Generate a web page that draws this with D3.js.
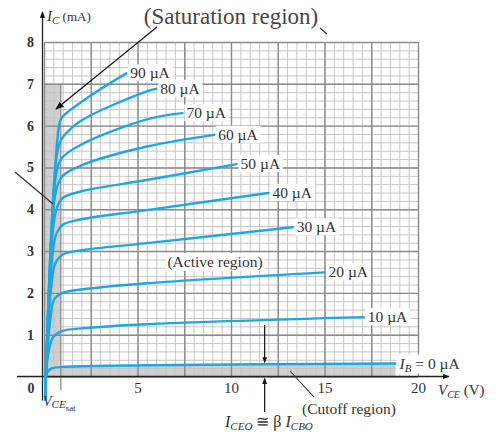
<!DOCTYPE html>
<html><head><meta charset="utf-8">
<script src="https://cdn.jsdelivr.net/npm/d3@7"></script>
<style>
body{margin:0;background:#fff}
svg{display:block}
text{font-family:"Liberation Serif","Times New Roman",serif;fill:#333}
</style>
</head><body>
<svg id="c" width="496" height="434"></svg>
<script>
// ---- data ----
const baseCurrents = [0, 10, 20, 30, 40, 50, 60, 70, 80, 90]; // µA
const curveIB0  = [[0.08,-0.55],[0.1,0],[0.2,0.12],[0.45,0.2],[1,0.23],[5.5,0.27],[18.8,0.31]];
const curveIB10 = [[0.08,-0.55],[0.1,0],[0.25,0.6],[0.5,0.95],[1,1.09],[2,1.15],[5.5,1.25],[17.1,1.42]];
const curveIB20 = [[0.08,-0.55],[0.1,0],[0.35,1.4],[0.55,1.85],[1,2.0],[2,2.08],[5.5,2.23],[15,2.49]];
const curveIB30 = [[0.08,-0.55],[0.1,0],[0.4,2.2],[0.6,2.7],[1,2.92],[2,3.02],[5.5,3.19],[13.3,3.57]];
const curveIB40 = [[0.08,-0.55],[0.1,0],[0.45,2.9],[0.65,3.4],[1,3.63],[2,3.76],[5.5,3.98],[12,4.39]];
const curveIB50 = [[0.08,-0.55],[0.1,0],[0.5,3.6],[0.7,4.05],[1,4.27],[2,4.43],[5.5,4.70],[10.3,5.08]];
const curveIB60 = [[0.08,-0.55],[0.1,0],[0.55,4.2],[0.75,4.6],[1,4.8],[2,5.05],[5.5,5.5],[9.1,5.78]];
const curveIB70 = [[0.08,-0.55],[0.1,0],[0.6,4.7],[0.8,5.1],[1,5.25],[2,5.55],[5.5,6.15],[7.4,6.3]];
const curveIB80 = [[0.08,-0.55],[0.1,0],[0.65,5.2],[0.85,5.6],[1,5.72],[2,6.12],[5.5,6.82],[6.0,6.88]];
const curveIB90 = [[0.08,-0.55],[0.1,0],[0.7,5.6],[0.85,6.1],[1,6.22],[2.4,6.69],[4.4,7.25]];
const curves = [curveIB0, curveIB10, curveIB20, curveIB30, curveIB40, curveIB50, curveIB60, curveIB70, curveIB80, curveIB90];
const xTickValues = [5, 10, 15, 20];
const yTickValues = [1, 2, 3, 4, 5, 6, 7, 8];
const vceSat = 0.9;        // V
const satTopCurrent = 7;   // mA, top of shaded saturation band
const iceoV = 11.8;        // V, where I_CEO is marked

// ---- scales ----
const x = d3.scaleLinear().domain([0, 20]).range([44, 418]);
const y = d3.scaleLinear().domain([0, 8]).range([376.5, 42]);
const svg = d3.select("#c");
const blue = "#1da7e6";

// shaded regions
svg.append("rect").attr("x", x(0)).attr("y", y(satTopCurrent))
  .attr("width", x(vceSat) - x(0)).attr("height", y(0) - y(satTopCurrent)).attr("fill", "#cfcfcf");
svg.append("path").datum(curveIB0.filter(d => d[1] >= 0))
  .attr("d", d3.area().x(d => x(d[0])).y0(y(0)).y1(d => y(d[1])))
  .attr("fill", "#cfcfcf");

// grid (minor then major)
const minorX = d3.range(0, 20.01, 0.5), minorY = d3.range(0, 8.01, 0.2);
const majorX = d3.range(0, 20.01, 2.5), majorY = d3.range(0, 8.01, 1);
const grid = svg.append("g");
grid.append("g").attr("transform", `translate(0,${y(0)})`)
  .call(d3.axisBottom(x).tickValues(minorX).tickSize(-(y(0) - y(8))).tickFormat(""))
  .call(g => g.select(".domain").remove())
  .call(g => g.selectAll("line").attr("stroke", "#c6c6c6").attr("stroke-width", 1));
grid.append("g").attr("transform", `translate(${x(0)},0)`)
  .call(d3.axisLeft(y).tickValues(minorY).tickSize(-(x(20) - x(0))).tickFormat(""))
  .call(g => g.select(".domain").remove())
  .call(g => g.selectAll("line").attr("stroke", "#c6c6c6").attr("stroke-width", 1));
grid.append("g").attr("transform", `translate(0,${y(0)})`)
  .call(d3.axisBottom(x).tickValues(majorX).tickSize(-(y(0) - y(8))).tickFormat(""))
  .call(g => g.select(".domain").remove())
  .call(g => g.selectAll("line").attr("stroke", "#8a8a8a").attr("stroke-width", 1.4));
grid.append("g").attr("transform", `translate(${x(0)},0)`)
  .call(d3.axisLeft(y).tickValues(majorY).tickSize(-(x(20) - x(0))).tickFormat(""))
  .call(g => g.select(".domain").remove())
  .call(g => g.selectAll("line").attr("stroke", "#8a8a8a").attr("stroke-width", 1.4));
// saturation boundary line
svg.append("line").attr("x1", x(vceSat)).attr("x2", x(vceSat)).attr("y1", y(satTopCurrent)).attr("y2", y(0) + 14)
  .attr("stroke", "#888").attr("stroke-width", 1.2);

// arrow markers
const defs = svg.append("defs");
defs.append("marker").attr("id", "ah").attr("viewBox", "0 0 10 10").attr("refX", 9).attr("refY", 5)
  .attr("markerWidth", 7).attr("markerHeight", 7).attr("orient", "auto-start-reverse")
  .append("path").attr("d", "M0,1 L10,5 L0,9 Z").attr("fill", "#111");
defs.append("marker").attr("id", "ahs").attr("viewBox", "0 0 10 10").attr("refX", 9).attr("refY", 5)
  .attr("markerWidth", 5).attr("markerHeight", 5).attr("orient", "auto-start-reverse")
  .append("path").attr("d", "M0,1 L10,5 L0,9 Z").attr("fill", "#111");

// axes lines
svg.append("line").attr("x1", x(0) - 1.5).attr("x2", x(0) - 1.5).attr("y1", y(0) + 24).attr("y2", 12)
  .attr("stroke", "#222").attr("stroke-width", 1.3).attr("marker-end", "url(#ahs)");
svg.append("line").attr("x1", 17).attr("x2", 449).attr("y1", y(0)).attr("y2", y(0))
  .attr("stroke", "#222").attr("stroke-width", 1.3).attr("marker-end", "url(#ahs)");

// tick labels via axes
svg.append("g").attr("transform", `translate(0,${y(0) + 3})`)
  .call(d3.axisBottom(x).tickValues(xTickValues).tickSize(0).tickFormat(d3.format("d")))
  .call(g => g.select(".domain").remove())
  .call(g => g.selectAll("text").attr("font-size", 15).attr("font-family", "Liberation Serif").attr("fill", "#333"));
svg.append("g").attr("transform", `translate(37,0)`)
  .call(d3.axisLeft(y).tickValues(yTickValues).tickSize(0).tickFormat(d3.format("d")))
  .call(g => g.select(".domain").remove())
  .call(g => g.selectAll("text").attr("font-size", 14).attr("font-weight", "bold").attr("font-family", "Liberation Serif").attr("fill", "#3a3a3a"));
svg.append("text").attr("x", 31).attr("y", y(0) + 16).attr("text-anchor", "middle")
  .attr("font-size", 14).attr("font-weight", "bold").text("0");

// curves
const line = d3.line().x(d => x(d[0])).y(d => y(d[1])).curve(d3.curveCatmullRom.alpha(0.5));
svg.append("g").selectAll("path").data(curves).join("path")
  .attr("d", line).attr("fill", "none").attr("stroke", blue).attr("stroke-width", 2.4)
  .attr("stroke-linecap", "round").attr("stroke-linejoin", "round");

// curve labels with white boxes
const lab = svg.append("g");
curves.forEach((c, i) => {
  const end = c[c.length - 1];
  const t = lab.append("text").attr("x", x(end[0]) + 4).attr("y", y(end[1]) + 5).attr("font-size", 15.5);
  if (baseCurrents[i] === 0) {
    t.append("tspan").attr("font-style", "italic").text("I");
    t.append("tspan").attr("font-style", "italic").attr("font-size", 11).attr("dy", 3).text("B");
    t.append("tspan").attr("dy", -3).text(" = 0 µA");
  } else {
    t.text(baseCurrents[i] + " µA");
  }
  const b = t.node().getBBox();
  lab.insert("rect", () => t.node()).attr("x", b.x - 2).attr("y", b.y).attr("width", b.width + 4).attr("height", b.height).attr("fill", "#fff");
});

// active region label
const act = svg.append("text").attr("x", 215).attr("y", 267).attr("text-anchor", "middle").attr("font-size", 15.5).text("(Active region)");
{ const b = act.node().getBBox();
  svg.insert("rect", () => act.node()).attr("x", b.x - 2).attr("y", b.y).attr("width", b.width + 4).attr("height", b.height).attr("fill", "#fff"); }

// title and annotations
svg.append("text").attr("x", 231).attr("y", 24).attr("text-anchor", "middle").attr("font-size", 23)
  .style("fill", "#454545").text("(Saturation region)");
svg.append("line").attr("x1", 320).attr("y1", 28).attr("x2", 327).attr("y2", 34).attr("stroke", "#333").attr("stroke-width", 1.2);
svg.append("line").attr("x1", 157).attr("y1", 27).attr("x2", 56).attr("y2", 109).attr("stroke", "#111").attr("stroke-width", 1.2).attr("marker-end", "url(#ah)");
svg.append("line").attr("x1", 15).attr("y1", 172).attr("x2", 53).attr("y2", 204).attr("stroke", "#333").attr("stroke-width", 1.2);

// y-axis title
const yt = svg.append("text").attr("x", 47).attr("y", 21).attr("font-size", 15);
yt.append("tspan").attr("font-style", "italic").text("I");
yt.append("tspan").attr("font-style", "italic").attr("font-size", 11).attr("dy", 3).text("C");
yt.append("tspan").attr("dy", -3).attr("font-size", 13).text(" (mA)");

// x-axis title
const xt = svg.append("text").attr("x", 438).attr("y", 395).attr("font-size", 15);
xt.append("tspan").attr("font-style", "italic").text("V");
xt.append("tspan").attr("font-style", "italic").attr("font-size", 10).attr("dy", 3).text("CE");
xt.append("tspan").attr("dy", -3).attr("font-size", 15).text(" (V)");

// V_CEsat label
const vs = svg.append("text").attr("x", 43).attr("y", 406).attr("font-size", 14);
vs.append("tspan").attr("font-style", "italic").text("V");
vs.append("tspan").attr("font-style", "italic").attr("font-size", 11).attr("dy", 2).text("CE");
vs.append("tspan").attr("font-size", 9).attr("dy", 3).text("sat");

// I_CEO arrows and label
svg.append("line").attr("x1", x(iceoV)).attr("x2", x(iceoV)).attr("y1", 325).attr("y2", y(0.31) - 1)
  .attr("stroke", "#111").attr("stroke-width", 1.2).attr("marker-end", "url(#ahs)");
svg.append("line").attr("x1", x(iceoV)).attr("x2", x(iceoV)).attr("y1", 412).attr("y2", y(0) + 2)
  .attr("stroke", "#111").attr("stroke-width", 1.2).attr("marker-end", "url(#ahs)");
const ic = svg.append("text").attr("x", 225).attr("y", 427).attr("font-size", 16);
ic.append("tspan").attr("font-style", "italic").text("I");
ic.append("tspan").attr("font-style", "italic").attr("font-size", 11).attr("dy", 3).text("CEO");
ic.append("tspan").attr("dy", -3).text(" ≅ β ");
ic.append("tspan").attr("font-style", "italic").text("I");
ic.append("tspan").attr("font-style", "italic").attr("font-size", 11).attr("dy", 3).text("CBO");

// cutoff label
svg.append("line").attr("x1", 290).attr("y1", 371).attr("x2", 314).attr("y2", 397).attr("stroke", "#333").attr("stroke-width", 1.1);
svg.append("text").attr("x", 302).attr("y", 414).attr("font-size", 15.5).text("(Cutoff region)");
</script>
</body></html>
